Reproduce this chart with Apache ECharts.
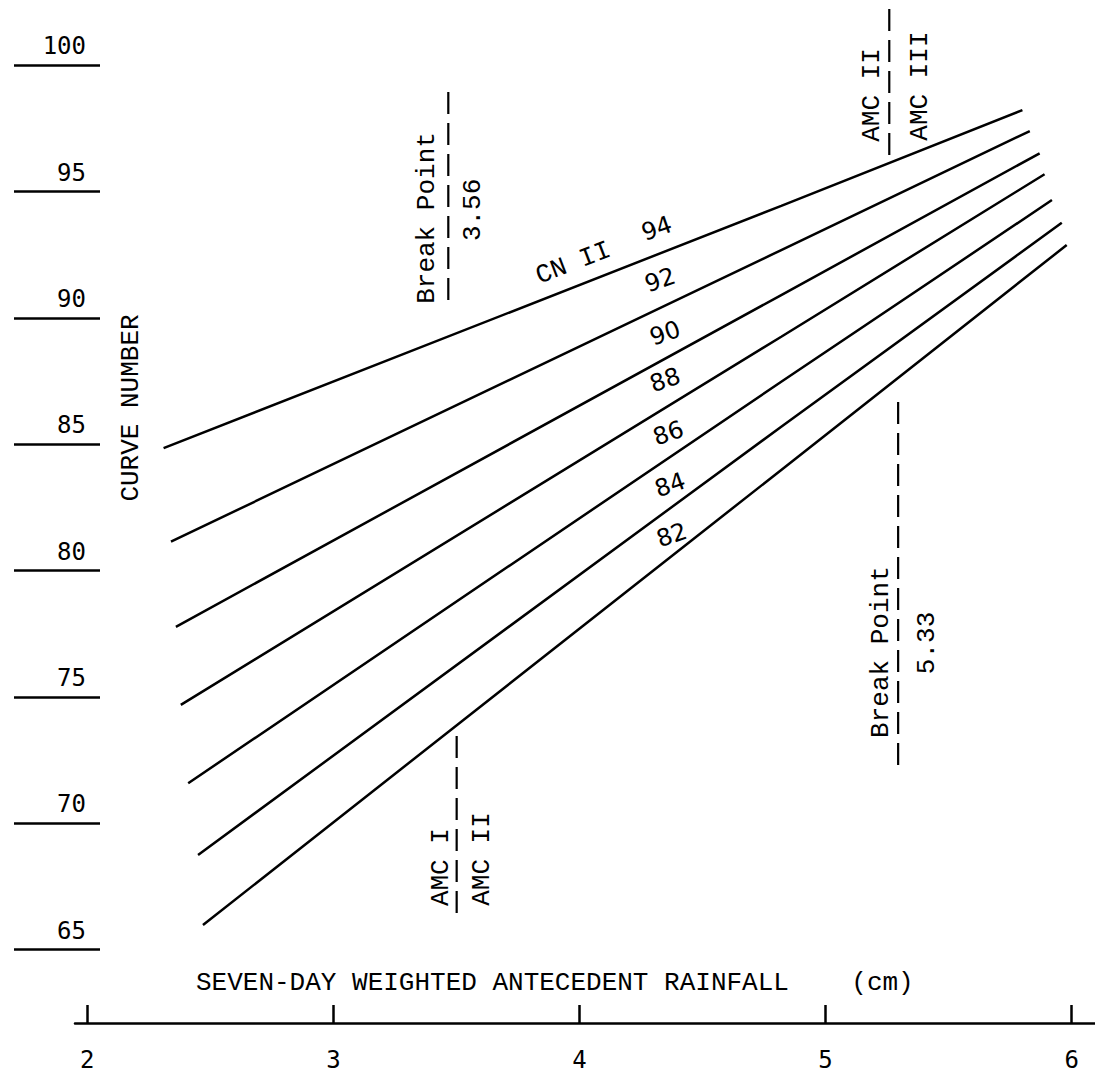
<!DOCTYPE html>
<html>
<head>
<meta charset="utf-8">
<script src="https://cdn.jsdelivr.net/npm/echarts@6.0.0/dist/echarts.min.js"></script>
<style>
html,body{margin:0;padding:0;background:#fff;}
#chart{width:1095px;height:1078px;}
</style>
</head>
<body>
<div id="chart"></div>
<script>
// ---- tick labels ----
const rainTicks = [2, 3, 4, 5, 6];
const cnTicks = [65, 70, 75, 80, 85, 90, 95, 100];

// ---- curves: seven-day rainfall (cm) vs curve number, one pair per CN II ----
const rain94 = [2.31, 4.82, 5.80];
const cn94   = [84.85, 94.44, 98.23];
const rain92 = [2.34, 4.82, 5.83];
const cn92   = [81.15, 92.69, 97.40];
const rain90 = [2.36, 4.82, 5.87];
const cn90   = [77.78, 90.91, 96.52];
const rain88 = [2.38, 4.82, 5.89];
const cn88   = [74.69, 89.26, 95.69];
const rain86 = [2.41, 4.82, 5.92];
const cn86   = [71.59, 87.48, 94.67];
const rain84 = [2.45, 4.82, 5.96];
const cn84   = [68.75, 85.70, 93.77];
const rain82 = [2.47, 4.82, 5.98];
const cn82   = [65.98, 83.99, 92.89];

// ---- dashed divider lines ----
const dividerX  = [3.467, 5.259, 5.295, 3.501];
const dividerY0 = [90.71, 96.45, 72.31, 66.45];
const dividerY1 = [99.30, 102.26, 86.84, 73.63];

// ---- vertical annotation texts ----
const noteText = ['Break Point', '3.56', 'AMC II', 'AMC III', 'Break Point', '5.33', 'AMC I', 'AMC II'];
const noteX    = [3.381, 3.567, 5.189, 5.384, 5.225, 5.412, 3.437, 3.604];
const noteY    = [93.96, 94.28, 98.83, 99.18, 76.78, 77.14, 68.27, 68.59];

// ---- curve labels ----
const curveText = ['CN II', '94', '92', '90', '88', '86', '84', '82'];
const curveLabX = [3.975, 4.314, 4.328, 4.348, 4.348, 4.361, 4.368, 4.375];
const curveLabY = [92.17, 93.55, 91.51, 89.40, 87.55, 85.44, 83.39, 81.41];

// ---- axis extents ----
const xMin = 1.95, xMax = 6.095;
const yMin = 62.1, yMax = 102.587;

const MONO = '"Liberation Mono", "Courier New", monospace';
const SANSMONO = '"DejaVu Sans Mono", monospace';
const HAND = '"DejaVu Sans", sans-serif';

const curves = [
  [rain94, cn94], [rain92, cn92], [rain90, cn90], [rain88, cn88],
  [rain86, cn86], [rain84, cn84], [rain82, cn82]
];

const series = [];
curves.forEach(function (c, k) {
  series.push({
    type: 'line',
    name: 'CN' + (94 - 2 * k),
    data: c[0].map(function (x, i) { return [x, c[1][i]]; }),
    showSymbol: false,
    symbol: 'none',
    lineStyle: { color: '#000', width: 2.5 },
    silent: true,
    z: 3
  });
});

dividerX.forEach(function (x, i) {
  series.push({
    type: 'line',
    data: [[x, dividerY0[i]], [x, dividerY1[i]]],
    showSymbol: false,
    symbol: 'none',
    lineStyle: { color: '#000', width: 2.2, type: [22, 9] },
    silent: true,
    z: 2
  });
});

series.push({
  type: 'scatter',
  symbol: 'circle',
  symbolSize: 0,
  itemStyle: { color: '#000', opacity: 1 },
  silent: true,
  z: 5,
  label: {
    show: true, position: 'inside', rotate: 90,
    color: '#000', opacity: 1, fontFamily: MONO, fontSize: 26,
    align: 'center', verticalAlign: 'middle'
  },
  data: noteText.map(function (t, i) {
    return { value: [noteX[i], noteY[i]], label: { formatter: t, color: '#000' } };
  })
});

series.push({
  type: 'scatter',
  symbol: 'circle',
  symbolSize: 0,
  itemStyle: { color: '#000', opacity: 1 },
  silent: true,
  z: 5,
  label: {
    show: true, position: 'inside',
    color: '#000', opacity: 1, fontSize: 24,
    align: 'center', verticalAlign: 'middle'
  },
  data: curveText.map(function (t, i) {
    const isCN = (i === 0);
    return {
      value: [curveLabX[i], curveLabY[i]],
      label: {
        formatter: t,
        color: '#000',
        rotate: isCN ? 21 : 19,
        fontFamily: isCN ? MONO : HAND,
        fontSize: isCN ? 26 : 24
      }
    };
  })
});

const chart = echarts.init(document.getElementById('chart'), null, { renderer: 'svg' });
chart.setOption({
  animation: false,
  backgroundColor: '#fff',
  grid: { left: 75, right: 0, top: 0, bottom: 55, containLabel: false, outerBoundsMode: 'none' },
  xAxis: {
    type: 'value', min: xMin, max: xMax,
    splitLine: { show: false },
    axisLine: { show: true, onZero: false, lineStyle: { color: '#000', width: 2.5 } },
    axisTick: { show: true, inside: true, length: 18, customValues: rainTicks,
      lineStyle: { color: '#000', width: 2.5 } },
    axisLabel: { show: true, customValues: rainTicks, margin: 25,
      color: '#000', fontFamily: SANSMONO, fontSize: 24 }
  },
  yAxis: {
    type: 'value', min: yMin, max: yMax, offset: -25,
    splitLine: { show: false },
    axisLine: { show: false },
    axisTick: { show: true, inside: false, length: 86, customValues: cnTicks,
      lineStyle: { color: '#000', width: 2.5 } },
    axisLabel: { show: true, customValues: cnTicks, margin: 14,
      color: '#000', fontFamily: SANSMONO, fontSize: 24,
      verticalAlign: 'bottom', padding: [0, 0, 7, 0] }
  },
  graphic: [
    {
      type: 'text', x: 131, y: 408, rotation: Math.PI / 2, silent: true,
      style: { text: 'CURVE NUMBER', fill: '#000', fontFamily: MONO, fontSize: 26,
        align: 'center', verticalAlign: 'middle' }
    },
    {
      type: 'text', x: 196, y: 983, silent: true,
      style: { text: 'SEVEN-DAY WEIGHTED ANTECEDENT RAINFALL    (cm)', fill: '#000',
        fontFamily: MONO, fontSize: 26, align: 'left', verticalAlign: 'middle' }
    }
  ],
  series: series
});
</script>
</body>
</html>
